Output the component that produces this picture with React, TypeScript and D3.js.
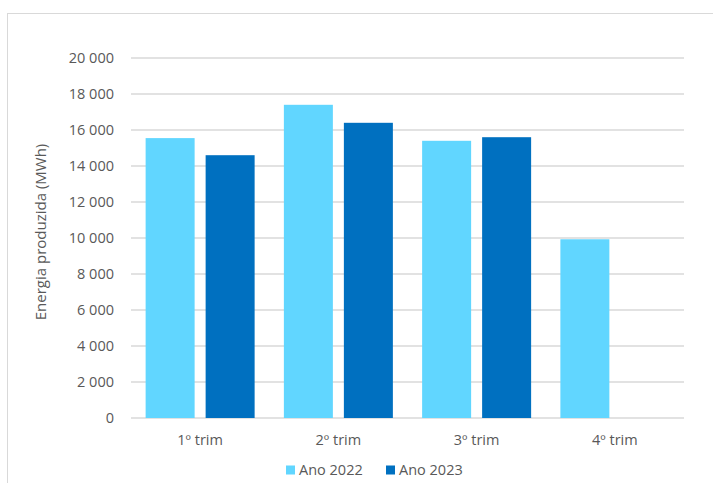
import React from "react";
import * as d3 from "d3";

const categories = ["1º trim", "2º trim", "3º trim", "4º trim"];
const seriesNames = ["Ano 2022", "Ano 2023"];
const values2022 = [15550, 17400, 15400, 9930];
const values2023: (number | null)[] = [14600, 16400, 15600, null];
const yTicks = [0, 2000, 4000, 6000, 8000, 10000, 12000, 14000, 16000, 18000, 20000];
const colors = ["#61D6FF", "#0070C0"];

const W = 713;
const H = 483;
const plot = { left: 131, right: 684, top: 58, bottom: 418 };

const fmt = (v: number) => {
  const s = String(v);
  return s.length > 3 ? s.slice(0, s.length - 3) + " " + s.slice(-3) : s;
};

export default function App() {
  const x = d3.scaleBand<string>().domain(categories).range([plot.left, plot.right]).paddingInner(0).paddingOuter(0);
  const y = d3.scaleLinear().domain([0, 20000]).range([plot.bottom, plot.top]);
  const bw = x.bandwidth();
  const barW = 49;
  const gap = 11;
  const series = [values2022, values2023];
  const font = "'Open Sans', 'Liberation Sans', sans-serif";
  return (
    <svg width={W} height={H} style={{ position: "absolute", left: 0, top: 0, background: "#fff" }} fontFamily={font}>
      <rect x={7.5} y={13.5} width={W + 10} height={H + 10} fill="#fff" stroke="#D9D9D9" strokeWidth={1} />
      {yTicks.map((t) => (
        <g key={t}>
          <line x1={plot.left} x2={plot.right} y1={y(t)} y2={y(t)} stroke="#D9D9D9" strokeWidth={1.5} />
          <text x={114} y={y(t)} dy="0.35em" textAnchor="end" fontSize={14.5} fill="#595959">
            {fmt(t)}
          </text>
        </g>
      ))}
      {categories.map((c, i) => {
        const cx = (x(c) as number) + bw / 2;
        return (
          <g key={c}>
            {series.map((s, j) => {
              const v = s[i];
              if (v == null) return null;
              const bx = j === 0 ? cx - gap / 2 - barW : cx + gap / 2;
              return <rect key={j} x={bx} y={y(v)} width={barW} height={y(0) - y(v)} fill={colors[j]} />;
            })}
            <text x={cx} y={440} dy="0.35em" textAnchor="middle" fontSize={14.5} fill="#595959">
              {c}
            </text>
          </g>
        );
      })}
      <text transform={`translate(41,232) rotate(-90)`} dy="0.35em" textAnchor="middle" fontSize={15} fill="#595959">
        Energia produzida (MWh)
      </text>
      {seriesNames.map((n, j) => (
        <g key={n} transform={`translate(${286 + j * 100},470)`}>
          <rect x={0} y={-4.5} width={9} height={9} fill={colors[j]} />
          <text x={13} y={0} dy="0.35em" fontSize={14.5} fill="#595959">
            {n}
          </text>
        </g>
      ))}
    </svg>
  );
}
